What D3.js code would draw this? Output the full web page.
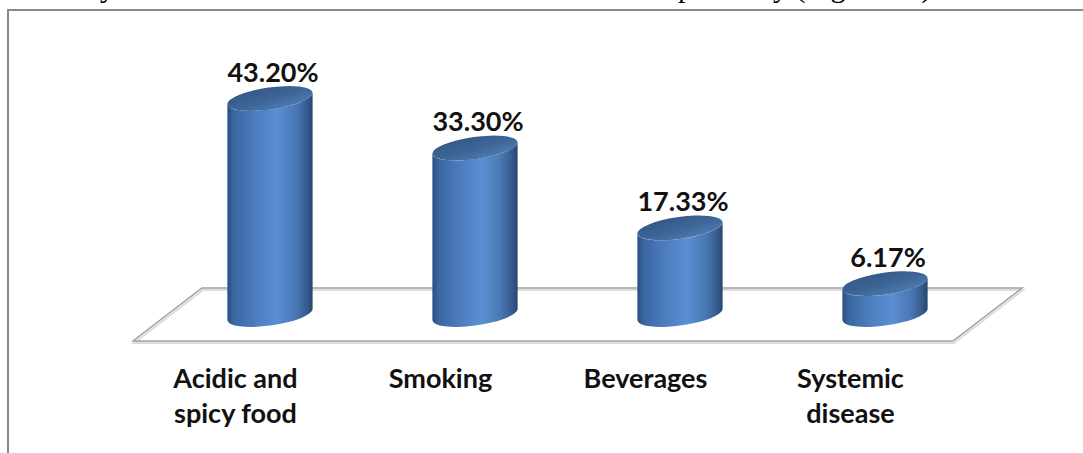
<!DOCTYPE html>
<html>
<head>
<meta charset="utf-8">
<script src="https://cdn.jsdelivr.net/npm/d3@7"></script>
<style>
	body{margin:0;background:#fff;}
	svg{display:block;}
	.val,.cat{font-family:Lato,"Open Sans",sans-serif;font-weight:bold;fill:#111;}
</style>
</head>
<body>
<svg id="myGraph" width="1083" height="453"></svg>
<script>
// chart data
var categories = ["Acidic and spicy food","Smoking","Beverages","Systemic disease"];
var catLines = [["Acidic and","spicy food"],["Smoking"],["Beverages"],["Systemic","disease"]];
var values = [43.20,33.30,17.33,6.17];
var yMax = 50;

window.addEventListener("load",function(){

	var svg = d3.select("#myGraph");

	// floor front edge and depth of the 3d floor
	var front = {x0:133,x1:953,y:341};
	var depth = {dx:69,dy:-53};
	var rx = 43, ry = 11, tilt = -8;

	var x = d3.scaleBand().domain(categories).range([front.x0,front.x1]);
	var h = d3.scaleLinear().domain([0,yMax]).range([0,250]);
	var fmt = d3.format(".2f");

	// gradients
	var defs = svg.append("defs");
	var g1 = defs.append("linearGradient").attr("id","body").attr("x1",0).attr("x2",1).attr("y1",0).attr("y2",0);
	[[0,"#2a4c7e"],[0.07,"#3a66a0"],[0.3,"#4a7bbd"],[0.58,"#5b8fd3"],[0.8,"#4a78b4"],[0.94,"#345a8c"],[1,"#27446c"]]
		.forEach(function(s){ g1.append("stop").attr("offset",s[0]).attr("stop-color",s[1]); });
	var g2 = defs.append("linearGradient").attr("id","cap").attr("x1",0).attr("x2",0.6).attr("y1",0).attr("y2",1);
	[[0,"#335683"],[0.6,"#3d6596"],[1,"#4b78ad"]]
		.forEach(function(s){ g2.append("stop").attr("offset",s[0]).attr("stop-color",s[1]); });

	// cut-off line of document text above the chart
	svg.append("text").attr("x",115).attr("y",-3).attr("text-anchor","end")
		.style("font-family","'Liberation Serif',serif").style("font-size","30px").text("mostly");
	svg.append("text").attr("x",643).attr("y",-3)
		.style("font-family","'Liberation Serif',serif").style("font-size","30px").text("respectively (Figure 12)");

	// frame
	svg.append("path").attr("d","M8,453 L8,10 L1083,10")
		.attr("fill","none").attr("stroke","#8a8a8a").attr("stroke-width",2);

	// floor
	var floorPts = [[front.x0+depth.dx,front.y+depth.dy],[front.x1+depth.dx,front.y+depth.dy],[front.x1,front.y],[front.x0,front.y]];
	var line = d3.line();
	svg.append("path").attr("d",line(floorPts.map(function(p){return [p[0]+1,p[1]+2];}))+"Z")
		.attr("fill","none").attr("stroke","#dcdcdc").attr("stroke-width",2);
	svg.append("path").attr("d",line(floorPts)+"Z")
		.attr("fill","none").attr("stroke","#a0a0a0").attr("stroke-width",1.5);

	var th = tilt*Math.PI/180;
	var t0 = Math.atan(-ry*Math.tan(th)/rx);
	function pt(cx,cy,t){
		return [cx+rx*Math.cos(t)*Math.cos(th)-ry*Math.sin(t)*Math.sin(th),
				cy+rx*Math.cos(t)*Math.sin(th)+ry*Math.sin(t)*Math.cos(th)];
	}
	function bodyPath(cx,yb,yt){
		var Rt = pt(cx,yt,t0), Lt = pt(cx,yt,t0+Math.PI);
		var Rb = pt(cx,yb,t0), Lb = pt(cx,yb,t0+Math.PI);
		return "M"+Lt+" L"+Lb+" A"+rx+","+ry+" "+tilt+" 0 0 "+Rb+" L"+Rt+" A"+rx+","+ry+" "+tilt+" 0 1 "+Lt+"Z";
	}

	var baseY = front.y+depth.dy/2;
	var bars = svg.selectAll("g.bar").data(values).enter().append("g").attr("class","bar");

	bars.append("path")
		.attr("d",function(d,i){
			var cx = x(categories[i])+x.bandwidth()/2+depth.dx/2;
			return bodyPath(cx,baseY,baseY-h(d));
		})
		.attr("fill","url(#body)");

	bars.append("ellipse")
		.attr("rx",rx).attr("ry",ry)
		.attr("transform",function(d,i){
			var cx = x(categories[i])+x.bandwidth()/2+depth.dx/2;
			return "translate("+cx+","+(baseY-h(d))+") rotate("+tilt+")";
		})
		.attr("fill","url(#cap)");

	bars.append("text").attr("class","val")
		.attr("x",function(d,i){ return x(categories[i])+x.bandwidth()/2+depth.dx/2+3; })
		.attr("y",function(d){ return baseY-h(d)-17; })
		.attr("text-anchor","middle")
		.style("font-size","27px")
		.text(function(d){ return fmt(d)+"%"; });

	// category labels along the floor's front edge
	var cats = svg.selectAll("text.cat").data(catLines).enter().append("text").attr("class","cat")
		.attr("text-anchor","middle")
		.style("font-size","27px");
	cats.selectAll("tspan").data(function(d,i){ return d.map(function(s){ return {s:s,i:i}; }); })
		.enter().append("tspan")
		.attr("x",function(d){ return x(categories[d.i])+x.bandwidth()/2; })
		.attr("y",function(d,j){ return 388+j*35; })
		.text(function(d){ return d.s; });

});
</script>
</body>
</html>
